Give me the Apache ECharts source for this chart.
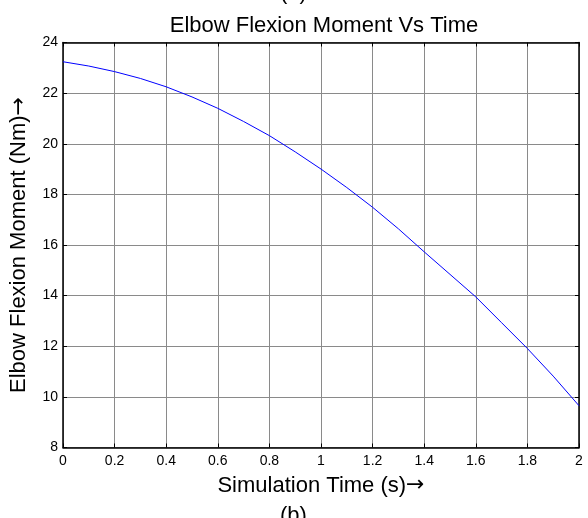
<!DOCTYPE html>
<html>
<head>
<meta charset="utf-8">
<script src="https://cdn.jsdelivr.net/npm/echarts@6/dist/echarts.min.js"></script>
<style>
  html, body { margin: 0; padding: 0; background: #fff; }
  #chart { width: 588px; height: 518px; }
</style>
</head>
<body>
<div id="chart"></div>
<script>
// simulation time (s)
const timeData = [0, 0.1, 0.2, 0.3, 0.4, 0.5, 0.6, 0.7, 0.8, 0.9, 1.0,
  1.1, 1.2, 1.3, 1.4, 1.5, 1.6, 1.7, 1.8, 1.9, 2.0]
// elbow flexion moment (Nm)
const momentData = [23.24, 23.07, 22.85, 22.58, 22.25, 21.85, 21.40, 20.88, 20.32, 19.68, 19.00,
  18.27, 17.49, 16.64, 15.73, 14.84, 13.95, 12.93, 11.91, 10.82, 9.65]

const font = 'Liberation Sans, Arial, sans-serif'
const chart = echarts.init(document.getElementById('chart'))

// arrow glyph drawn in DejaVu so it has full width
const nameRich = {
  t: { fontFamily: font, fontSize: 22, color: '#000' },
  arr: { fontFamily: 'DejaVu Sans', fontSize: 22, color: '#000' }
}

const boxAxis = {
  axisLine: { show: true, onZero: false, lineStyle: { color: '#000', width: 1.5 } },
  axisTick: { show: true, inside: true, length: 4, lineStyle: { color: '#000' } },
  splitLine: { show: false },
  axisLabel: { show: false }
}

chart.setOption({
  animation: false,
  title: {
    text: 'Elbow Flexion Moment Vs Time',
    left: 319, top: 10, textAlign: 'center',
    textStyle: { fontFamily: font, fontSize: 22, fontWeight: 'normal', color: '#000' }
  },
  grid: { left: 62.5, right: 9, top: 42.5, bottom: 70.5 },
  xAxis: [
    {
      type: 'value', min: 0, max: 2, interval: 0.2,
      name: '{t|Simulation Time (s)}{arr|→}', nameLocation: 'middle', nameGap: 27,
      nameTextStyle: { rich: nameRich },
      axisLine: { show: true, onZero: false, lineStyle: { color: '#000', width: 1.5 } },
      axisTick: { show: true, inside: true, length: 4, lineStyle: { color: '#000' } },
      splitLine: { show: true, lineStyle: { color: '#8a8a8a', width: 1 } },
      axisLabel: {
        fontFamily: font, fontSize: 14, color: '#000', margin: 7,
        formatter: v => String(+v.toFixed(1))
      }
    },
    Object.assign({ type: 'value', position: 'top', min: 0, max: 2, interval: 0.2 }, boxAxis)
  ],
  yAxis: [
    {
      type: 'value', min: 8, max: 24, interval: 2,
      name: '{t|Elbow Flexion Moment (Nm)}{arr|→}', nameLocation: 'middle', nameGap: 33,
      nameTextStyle: { rich: nameRich },
      axisLine: { show: true, onZero: false, lineStyle: { color: '#000', width: 1.5 } },
      axisTick: { show: true, inside: true, length: 4, lineStyle: { color: '#000' } },
      splitLine: { show: true, lineStyle: { color: '#8a8a8a', width: 1 } },
      axisLabel: { fontFamily: font, fontSize: 14, color: '#000', margin: 5 }
    },
    Object.assign({ type: 'value', position: 'right', min: 8, max: 24, interval: 2 }, boxAxis)
  ],
  graphic: [
    { type: 'text', left: 280, top: -18, style: { text: '(a)', font: '22px Liberation Sans, Arial', fill: '#000' } },
    { type: 'text', left: 280, top: 505, style: { text: '(b)', font: '22px Liberation Sans, Arial', fill: '#000' } }
  ],
  series: [
    {
      type: 'line',
      data: timeData.map((t, i) => [t, momentData[i]]),
      showSymbol: false,
      smooth: false,
      lineStyle: { color: '#0000ff', width: 1 },
      z: 5
    }
  ]
})
</script>
</body>
</html>
